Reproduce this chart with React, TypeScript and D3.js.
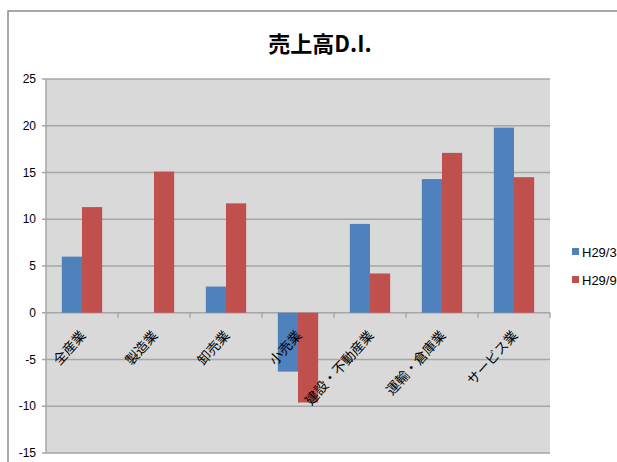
import React from "react";
import * as d3 from "d3";

const categories = ["全産業", "製造業", "卸売業", "小売業", "建設・不動産業", "運輸・倉庫業", "サービス業"];
const seriesNames = ["H29/3", "H29/9"];
const h293 = [6.0, null, 2.8, -6.3, 9.5, 14.3, 19.8];
const h299 = [11.3, 15.1, 11.7, -9.6, 4.2, 17.1, 14.5];
const yTicks = [25, 20, 15, 10, 5, 0, -5, -10, -15];
const colors = ["#4f81bd", "#c0504d"];

const width = 617;
const height = 462;
const plot = { left: 46, right: 550, top: 79, bottom: 453 };

export default function App() {
  const x = d3
    .scaleBand()
    .domain(categories)
    .range([plot.left, plot.right])
    .paddingInner(0.44)
    .paddingOuter(0.22);

  const xs = d3.scaleBand().domain(seriesNames).range([0, x.bandwidth()]);

  const y = d3.scaleLinear().domain([-15, 25]).range([plot.bottom, plot.top]);

  const series = [h293, h299];
  const step = (plot.right - plot.left) / categories.length;

  return (
    <svg
      width={width}
      height={height}
      style={{ position: "absolute", left: 0, top: 0, background: "#fff" }}
    >
      <rect x={8} y={11} width={640} height={500} fill="#fff" stroke="#8c8c8c" strokeWidth={1.5} />
      <text
        x={320}
        y={52}
        textAnchor="middle"
        fontFamily="'Noto Sans CJK JP', sans-serif"
        fontWeight="bold"
        fontSize={22}
      >
        売上高D.I.
      </text>

      <rect
        x={plot.left}
        y={plot.top}
        width={plot.right - plot.left}
        height={plot.bottom - plot.top}
        fill="#d9d9d9"
      />

      {/* gridlines */}
      {yTicks.map((t) => (
        <line
          key={"g" + t}
          x1={plot.left - 4}
          x2={plot.right}
          y1={y(t)}
          y2={y(t)}
          stroke="#a6a6a6"
          strokeWidth={1.5}
        />
      ))}
      <line x1={plot.left} x2={plot.left} y1={plot.top} y2={plot.bottom} stroke="#a6a6a6" strokeWidth={1.5} />

      {/* y labels */}
      {yTicks.map((t) => (
        <text
          key={"t" + t}
          x={36}
          y={y(t)}
          dy="0.35em"
          textAnchor="end"
          fontFamily="'Liberation Sans Narrow', 'Liberation Sans', sans-serif"
          fontSize={12}
          fill="#000"
        >
          {t}
        </text>
      ))}

      {/* bars */}
      {series.map((vals, si) =>
        vals.map((v, i) =>
          v == null ? null : (
            <rect
              key={si + "-" + i}
              x={(x(categories[i]) as number) + (xs(seriesNames[si]) as number)}
              y={y(Math.max(0, v))}
              width={xs.bandwidth()}
              height={Math.abs(y(v) - y(0))}
              fill={colors[si]}
            />
          )
        )
      )}

      {/* category ticks */}
      {d3.range(1, categories.length + 1).map((k) => (
        <line
          key={"ct" + k}
          x1={plot.left + k * step}
          x2={plot.left + k * step}
          y1={y(0)}
          y2={y(0) + 5}
          stroke="#a6a6a6"
          strokeWidth={1.5}
        />
      ))}

      {/* category labels */}
      {categories.map((c) => (
        <text
          key={c}
          transform={`translate(${(x(c) as number) + x.bandwidth() / 2 + 1},${y(0) + 20}) rotate(-48)`}
          textAnchor="end"
          dy="0.35em"
          fontFamily="'Noto Sans CJK JP', sans-serif"
          fontSize={13.5}
          fill="#000"
        >
          {c}
        </text>
      ))}

      {/* legend */}
      {seriesNames.map((s, i) => (
        <g key={s} transform={`translate(572,${252 + i * 28})`}>
          <rect x={0} y={-4} width={7} height={7} fill={colors[i]} />
          <text
            x={10}
            y={0}
            dy="0.35em"
            fontFamily="'Liberation Sans Narrow', 'Liberation Sans', sans-serif"
            fontSize={13}
          >
            {s}
          </text>
        </g>
      ))}
    </svg>
  );
}
